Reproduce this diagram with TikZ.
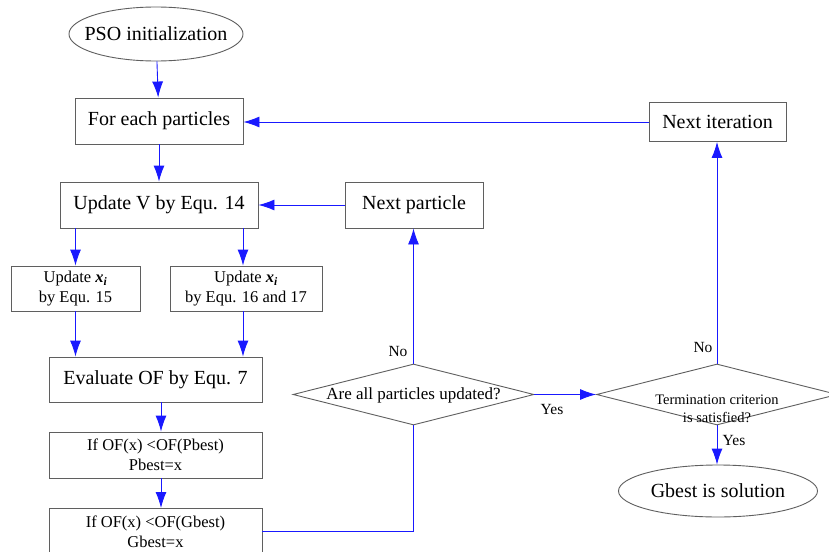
\documentclass[tikz,border=0pt]{standalone}
\usepackage{fontspec}
\setmainfont{Liberation Serif}
\usetikzlibrary{shapes.geometric,arrows.meta}
\definecolor{edgegray}{RGB}{95,95,95}
\definecolor{flowblue}{RGB}{25,25,255}
\newcommand{\bigtxt}{\fontsize{20}{23}\selectfont}
\newcommand{\smalltxt}{\fontsize{16.5}{20}\selectfont}
\newcommand{\myxi}{\textbf{\textit{x}}\textsubscript{\textbf{\textit{i}}}}
\tikzset{
  box/.style={draw=edgegray, line width=0.9pt, fill=white, rectangle, inner sep=0pt, align=center},
  bigbox/.style={box, font=\bigtxt},
  smallbox/.style={box, font=\smalltxt},
  oval/.style={draw=edgegray, line width=0.9pt, ellipse, inner sep=0pt, font=\bigtxt},
  dia/.style={draw=edgegray, line width=0.9pt, diamond, inner sep=0pt, minimum width=241pt, minimum height=61pt},
  flow/.style={draw=flowblue, line width=0.9pt, -{Latex[length=16pt,width=11pt]}},
  plain/.style={draw=flowblue, line width=0.9pt},
  lbl/.style={font=\fontsize{15.5}{18}\selectfont, inner sep=0pt}
}
\begin{document}
\begin{tikzpicture}[x=1pt,y=-1pt]
\useasboundingbox (0,0) rectangle (829,551);
\clip (0,0) rectangle (829,551);
\fill[white] (0,0) rectangle (829,551);
% nodes
\node[oval, minimum width=174pt, minimum height=54pt] (pso) at (156,34) {\makebox[0pt]{PSO initialization}};
\node[bigbox, minimum width=168pt, minimum height=46pt] (fep) at (159,121) {For each particles};
\node[bigbox, minimum width=198pt, minimum height=46pt] (upv) at (159,205) {Update V by Equ. 14};
\node[bigbox, minimum width=138pt, minimum height=46pt] (np) at (414,205) {Next particle};
\node[bigbox, minimum width=137pt, minimum height=39pt] (ni) at (717.5,122) {Next iteration};
\node[smallbox, minimum width=129pt, minimum height=45pt] (u15) at (75.5,288.5) {Update \myxi\\by Equ. 15};
\node[smallbox, minimum width=152pt, minimum height=45pt] (u16) at (246,288.5) {Update \myxi\\by Equ. 16 and 17};
\node[bigbox, minimum width=213pt, minimum height=45pt] (eva) at (155.5,379.5) {Evaluate OF by Equ. 7};
\node[smallbox, minimum width=213pt, minimum height=46pt] (pb) at (155.5,455) {If OF(x) <OF(Pbest)\\Pbest=x};
\node[smallbox, minimum width=213pt, minimum height=46pt, anchor=north] (gb) at (155.5,508) {If OF(x) <OF(Gbest)\\Gbest=x};
\node[dia] (d1) at (413.5,394.5) {};
\node[font=\fontsize{17}{20}\selectfont, inner sep=0pt] (d1t) at (413.5,395) {Are all particles updated?};
\node[dia] (d2) at (717,394.5) {};
\node[font=\fontsize{14.5}{17.5}\selectfont, inner sep=0pt, align=center] (d2t) at (717,409) {Termination criterion\\is satisfied?};
\node[oval, minimum width=199pt, minimum height=52pt] (gs) at (718,491) {\makebox[0pt]{Gbest is solution}};
% labels
\node[lbl] (no1) at (398,351) {No};
\node[lbl] (no2) at (703,347) {No};
\node[lbl] (yes1) at (552,409) {Yes};
\node[lbl] (yes2) at (734,440) {Yes};
% connectors
\draw[flow] (pso) -- (fep);
\draw[flow] (fep) -- (upv);
\draw[flow] (upv.south -| u15.north) -- (u15.north);
\draw[flow] ([xshift=-3pt]upv.south -| u16.north) -- ([xshift=-3pt]u16.north);
\draw[flow] (u15.south) -- (u15.south |- eva.north);
\draw[flow] ([xshift=-3pt]u16.south) -- ([xshift=-3pt]u16.south |- eva.north);
\draw[flow] ([xshift=5.5pt]eva.south) -- ([xshift=5.5pt]pb.north);
\draw[flow] ([xshift=5.5pt]pb.south) -- ([xshift=5.5pt]gb.north);
\draw[plain] (gb.east |- 0,531) -| (d1.south);
\draw[flow] (d1.north) -- (d1.north |- np.south);
\draw[flow] (np.west) -- (upv.east);
\draw[flow] (d1.east) -- (d2.west);
\draw[flow] (d2.north) -- (d2.north |- ni.south);
\draw[flow] (ni.west) -- (ni.west -| fep.east);
\draw[flow] (d2.south) -- (d2.south |- gs.north);
\end{tikzpicture}
\end{document}
